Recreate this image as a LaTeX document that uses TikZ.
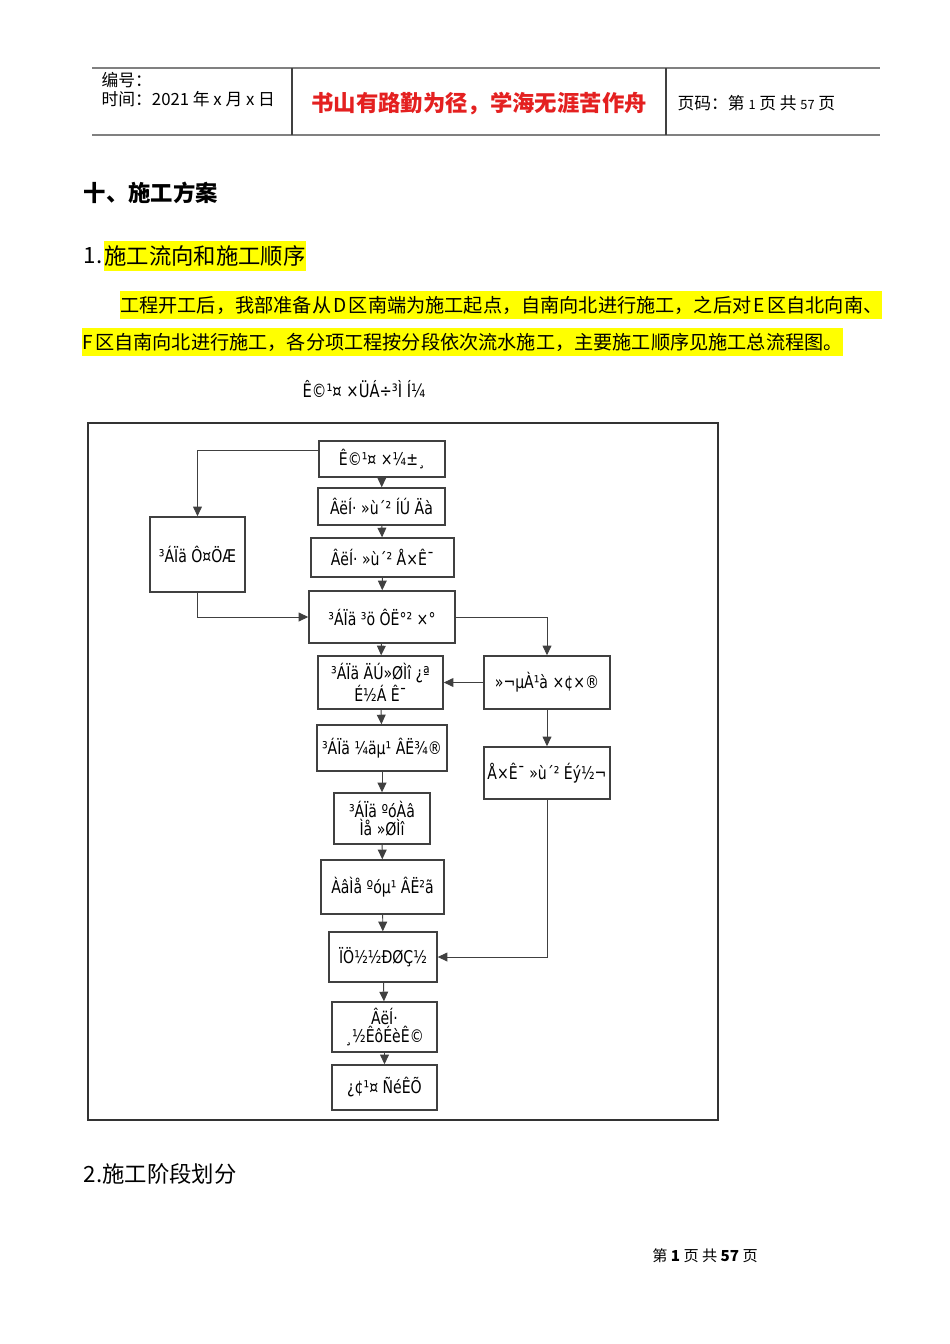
\documentclass[tikz,border=0pt]{standalone}
\usepackage{fontspec}
\setmainfont{Noto Sans CJK SC}
\newfontfamily\boxfont{DejaVu Sans}[FakeStretch=0.8]
\usetikzlibrary{arrows.meta}
\definecolor{mottored}{RGB}{228,32,32}
\definecolor{linegray}{RGB}{64,64,64}
\definecolor{rulegray}{RGB}{128,128,128}
\definecolor{marker}{RGB}{255,255,0}
\tikzset{
	box/.style={draw=linegray, line width=0.9pt, rectangle, align=center,
		inner sep=1pt, font=\boxfont\fontsize{11}{11.5}\selectfont},
	flow/.style={linegray, line width=0.6pt, -{Triangle[length=6pt, width=5.5pt]}},
	hv/.style={to path={-| (\tikztotarget) \tikztonodes}},
	vh/.style={to path={|- (\tikztotarget) \tikztonodes}},
	hilite/.style={fill=marker, inner xsep=0pt, inner ysep=3pt, anchor=west}
}
\newcommand\gap{\hspace{0.12em}}
\begin{document}
\begin{tikzpicture}[x=0.626pt, y=-0.626pt]
				\useasboundingbox[fill=white] (0,0) rectangle (950,1344);
				\draw[rulegray, line width=0.7pt] (92,68) -- (880,68);
				\draw[rulegray, line width=1.4pt] (92,135) -- (880,135);
				\draw[linegray, line width=0.7pt] (292,68) -- (292,135) (666,68) -- (666,135);
				\node[anchor=west, font=\fontsize{10.5}{12}\selectfont] (code) at (96,80) {编号：};
				\node[anchor=west, font=\fontsize{10.5}{12}\selectfont] (date) at (96,99) {时间：2021 年 x 月 x 日};
				\node[font=\fontsize{14}{16}\selectfont\bfseries, text=mottored] (motto) at (479,104) {书山有路勤为径，学海无涯苦作舟};
				\node[anchor=west, font=\fontsize{10.5}{12}\selectfont] (pageno) at (672,103) {页码：第 {\fontsize{8}{10}\selectfont 1} 页 共 {\fontsize{8}{10}\selectfont 57} 页};
				\node[anchor=west, font=\fontsize{14}{16}\selectfont\bfseries] (chapter) at (78,193) {十、施工方案};
				\node[anchor=west, font=\fontsize{14}{16}\selectfont] (secone) at (78,256) {1.};
				\node[hilite, font=\fontsize{14}{16}\selectfont] (secname) at (104,256) {施工流向和施工顺序};
				\node[hilite, font=\fontsize{12}{14}\selectfont] (lineone) at (120,305) {工程开工后，我部准备从\gap D\gap 区南端为施工起点，自南向北进行施工，之后对\gap E\gap 区自北向南、};
				\node[hilite, font=\fontsize{12}{14}\selectfont] (linetwo) at (82,342) {F\gap 区自南向北进行施工，各分项工程按分段依次流水施工，主要施工顺序见施工总流程图。};
				\node[font=\boxfont\fontsize{11.5}{12}\selectfont] (charttitle) at (364,389) {Ê©¹¤ ×ÜÁ÷³Ì Í¼};
				\draw[black!80, line width=0.7pt] (88,423) rectangle (718,1120);
				\node[box, minimum width=78.9pt, minimum height=22.5pt] (prep) at (382,459) {Ê©¹¤ ×¼±¸};
				\node[box, minimum width=79.5pt, minimum height=23.2pt] (dredge) at (381.5,506.5) {ÂëÍ· »ù´² ÍÚ Äà};
				\node[box, minimum width=89.5pt, minimum height=24.4pt] (rubble) at (382.5,557.5) {ÂëÍ· »ù´² Å×Ê¯};
				\node[box, minimum width=59.5pt, minimum height=47pt] (prefab) at (197.5,554.5) {³ÁÏä Ô¤ÖÆ};
				\node[box, minimum width=91.4pt, minimum height=32.6pt] (install) at (382,617) {³ÁÏä ³ö ÔË°² ×°};
				\node[box, minimum width=78.3pt, minimum height=33.2pt] (fill) at (380.5,682.5) {³ÁÏä ÄÚ»ØÌî ¿ª\\É½Á Ê¯};
				\node[box, minimum width=78.9pt, minimum height=33.2pt] (pile) at (547,682.5) {»¬µÀ¹à ×¢×®};
				\node[box, minimum width=81.4pt, minimum height=28.8pt] (well) at (382,748) {³ÁÏä ¼äµ¹ ÂË¾®};
				\node[box, minimum width=78.9pt, minimum height=32.6pt] (grout) at (547,773) {Å×Ê¯ »ù´² Éý½¬};
				\node[box, minimum width=60.1pt, minimum height=31.9pt] (prism) at (382,818.5) {³ÁÏä ºóÀâ\\Ìå »ØÌî};
				\node[box, minimum width=77pt, minimum height=33.8pt] (layer) at (382.5,887) {ÀâÌå ºóµ¹ ÂË²ã};
				\node[box, minimum width=67.6pt, minimum height=31.3pt] (wall) at (383,957) {ÏÖ½½ÐØÇ½};
				\node[box, minimum width=65.7pt, minimum height=31.3pt] (annex) at (384.5,1027) {ÂëÍ·\\¸½ÊôÉèÊ©};
				\node[box, minimum width=65.7pt, minimum height=28.2pt] (accept) at (384.5,1087.5) {¿¢¹¤ ÑéÊÕ};
				\path[flow]
				(prep) edge (dredge)
				(dredge) edge (rubble)
				(rubble) edge (install)
				(install) edge (fill)
				(fill) edge (well)
				(well) edge (prism)
				(prism) edge (layer)
				(layer) edge (wall)
				(wall) edge (annex)
				(annex) edge (accept)
				([yshift=5.6pt]prep.west) edge[hv] (prefab)
				(prefab) edge[vh] (install)
				(install) edge[hv] (pile)
				(pile) edge (fill)
				(pile) edge (grout)
				(grout) edge[vh] (wall);
				\node[anchor=west, font=\fontsize{14}{16}\selectfont] (sectwo) at (78,1174) {2.施工阶段划分};
				\node[font=\fontsize{9.5}{11}\selectfont] (footer) at (705,1256) {第 \textbf{1} 页 共 \textbf{57} 页};
			\end{tikzpicture}
\end{document}
